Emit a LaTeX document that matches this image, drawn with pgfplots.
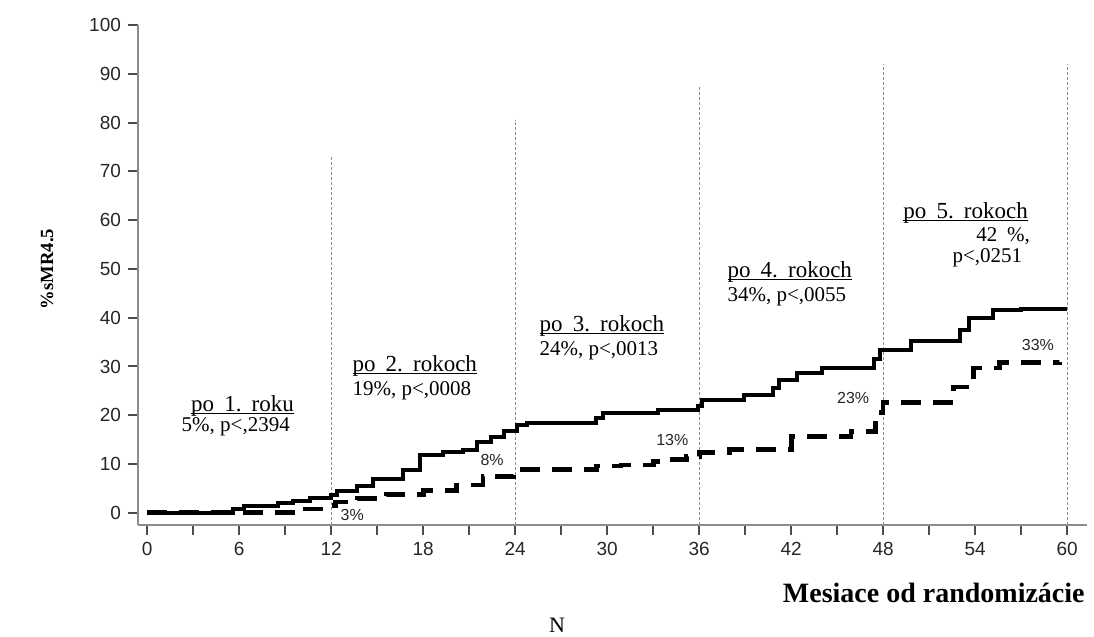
\documentclass[border=0pt]{standalone}
\usepackage{pgfplots}
\pgfplotsset{compat=1.18}
\usepackage{fontspec}
\setmainfont{Liberation Serif}
\setsansfont{Liberation Sans}

\definecolor{axisgray}{gray}{0.55}
\definecolor{tickgray}{gray}{0.3}
\definecolor{refgray}{gray}{0.55}

% underline close to the baseline
\newlength\ulw
\newcommand\ul[1]{\settowidth\ulw{#1}\rlap{\rule[-1.3pt]{\ulw}{0.5pt}}#1}
\newcommand\ws{\hspace{2.2pt}\ }

\begin{document}
\begin{tikzpicture}
\path[use as bounding box] (-69pt,-56pt) rectangle (478pt,262.5pt);
\begin{axis}[
    at={(0,0)}, anchor=south west,
    scale only axis, width=474.5pt, height=250pt,
    xmin=-0.6, xmax=61.3, ymin=-2.5, ymax=100,
    axis x line=bottom, axis y line=left,
    axis line style={axisgray, line width=1pt, -},
    xtick={0,6,...,60}, minor xtick={3,9,...,57},
    ytick={0,10,...,100},
    tick align=outside,
    major tick length=5pt, minor tick length=5pt,
    tick style={tickgray, line width=1pt},
    tick label style={font=\sffamily\fontsize{9.5}{10}\selectfont, text=black!85},
    /pgf/number format/assume math mode=true,
    clip=false,
]
% reference lines at each year
\addplot[refgray, line width=0.55pt, dash pattern=on 1.5pt off 1pt] coordinates {(12,-2.5)(12,72.9)};
\addplot[refgray, line width=0.55pt, dash pattern=on 1.5pt off 1pt] coordinates {(24,-2.5)(24,80.6)};
\addplot[refgray, line width=0.55pt, dash pattern=on 1.5pt off 1pt] coordinates {(36,-2.5)(36,87.4)};
\addplot[refgray, line width=0.55pt, dash pattern=on 1.5pt off 1pt] coordinates {(48,-2.5)(48,92)};
\addplot[refgray, line width=0.55pt, dash pattern=on 1.5pt off 1pt] coordinates {(60,-2.5)(60,92)};

% dashed group
\addplot[const plot, black, line width=2.4pt, dash pattern=on 10pt off 6pt] coordinates {
  (0,0)(9.5,0.8)(11.8,1.5)(12.3,2.2)(13.7,2.9)(15.6,3.7)(18,4.5)(20.2,5.7)
  (21.9,7.4)(23.9,8.8)(29.3,9.6)(30.9,9.8)(33,10.5)(33.9,11)(35.2,11.5)
  (36,12.3)(38,12.9)(42,15.6)(45.9,16.6)(47.5,20.5)(48,22.6)(52.6,25.8)
  (53.9,29.7)(55.6,30.8)(59.5,31)
};
% solid group
\addplot[const plot, black, line width=2pt] coordinates {
  (0,0)(5.6,0.8)(6.3,1.4)(8.5,2)(9.5,2.5)(10.6,3)(12,3.7)(12.4,4.5)(13.7,5.4)
  (14.7,6.9)(16.7,8.8)(17.8,11.9)(19.3,12.5)(20.6,12.9)(21.5,14.5)(22.4,15.6)
  (23.3,16.8)(24.1,18)(24.8,18.5)(29.3,19.5)(29.7,20.5)(33.3,21.1)(35.9,21.8)
  (36.2,23.2)(38.9,24.2)(40.8,25.5)(41.2,27.3)(42.4,28.7)(44,29.7)(47.4,31.5)
  (47.8,33.4)(49.8,35.3)(53,37.5)(53.6,40)(55.2,41.6)(57,41.8)(60,41.8)
};

% small percentage labels
\tikzset{pct/.style={font=\sffamily\fontsize{8}{8}\selectfont, text=black!85, inner sep=0pt}}
\node[pct] at (axis cs:13.37,-0.4) {3\%};
\node[pct] at (axis cs:22.5,10.9) {8\%};
\node[pct] at (axis cs:34.25,15.0) {13\%};
\node[pct] at (axis cs:46.05,23.6) {23\%};
\node[pct] at (axis cs:58.1,34.5) {33\%};

% annotations
\tikzset{ann/.style={font=\fontsize{10.5}{12}\selectfont, inner sep=0pt},
         hd/.style={font=\fontsize{11.5}{12}\selectfont, inner sep=0pt}}
\node[hd, anchor=mid east] at (axis cs:9.59,21.7) {\ul{po\ws 1.\ws roku}};
\node[ann, anchor=mid east] at (axis cs:9.33,17.6) {5\%, p<,2394};
\node[hd, anchor=mid west] at (axis cs:13.37,29.9) {\ul{po\ws 2.\ws rokoch}};
\node[ann, anchor=mid west] at (axis cs:13.37,25.0) {19\%, p<,0008};
\node[hd, anchor=mid west] at (axis cs:25.57,38.1) {\ul{po\ws 3.\ws rokoch}};
\node[ann, anchor=mid west] at (axis cs:25.57,33.2) {24\%, p<,0013};
\node[hd, anchor=mid west] at (axis cs:37.83,49.2) {\ul{po\ws 4.\ws rokoch}};
\node[ann, anchor=mid west] at (axis cs:37.83,44.3) {34\%, p<,0055};
\node[hd, anchor=mid west] at (axis cs:49.3,61.3) {\ul{po\ws 5.\ws rokoch}};
\node[ann, anchor=mid east] at (axis cs:57.6,56.5) {42\ws\%,};
\node[ann, anchor=mid east] at (axis cs:57.1,52.2) {p<,0251};
\end{axis}
\node[anchor=east, inner sep=0pt, font=\bfseries\fontsize{14}{15}\selectfont] at (473.5pt,-34pt) {Mesiace od randomizácie};
\node[font=\fontsize{11}{12}\selectfont] at (209.5pt,-50pt) {N};
\node[rotate=90, font=\bfseries\fontsize{9.3}{10}\selectfont] at (-45.5pt,128pt) {\%sMR4.5};
\end{tikzpicture}
\end{document}
